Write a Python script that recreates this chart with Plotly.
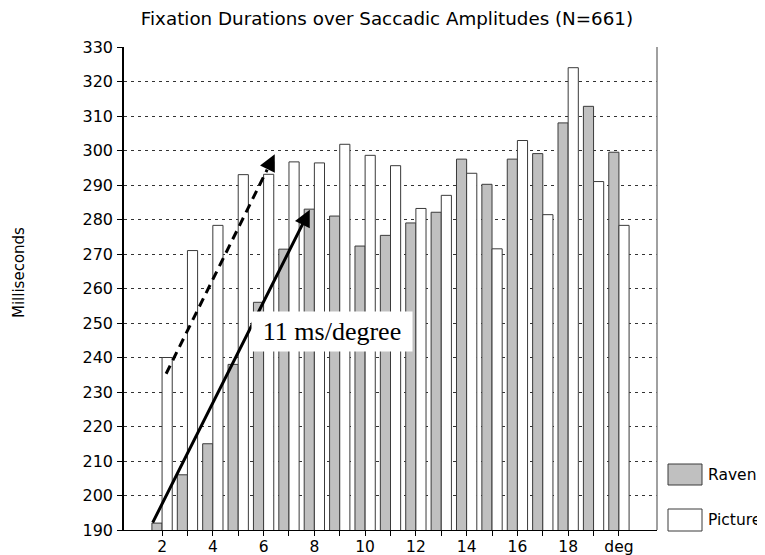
import plotly.graph_objects as go

# ---- data ----
categories = ["2", "3", "4", "5", "6", "7", "8", "9", "10", "11", "12", "13",
              "14", "15", "16", "17", "18", "19", "deg"]
tick_labels = ["2", "", "4", "", "6", "", "8", "", "10", "", "12", "",
               "14", "", "16", "", "18", "", "deg"]
raven = [192, 206, 215, 238, 256, 271.4, 283, 281, 272.3, 275.4, 279, 282.1,
         297.5, 290.2, 297.5, 299.1, 308, 312.8, 299.5]
picture = [240, 271, 278.3, 293, 293.1, 296.7, 296.4, 301.8, 298.6, 295.6, 283.2, 287,
           293.4, 271.5, 302.9, 281.4, 324, 291, 278.3]
y_ticks = list(range(190, 331, 10))

# trend arrows (category-index, ms)
solid_start = (-0.4, 191.7)
solid_end = (5.82, 282.8)
dashed_start = (0.16, 235.3)
dashed_end = (4.44, 298.9)
slope_label = "11 ms/degree"
slope_label_pos = (6.68, 247.4)

xpos = list(range(len(categories)))

FONT = "DejaVu Sans"
W, H = 757, 547  # page body adds an 8px offset

fig = go.Figure()
fig.add_trace(go.Bar(x=xpos, y=raven, name="Raven",
                     marker=dict(color="#C0C0C0", line=dict(color="#3a3a3a", width=1))))
fig.add_trace(go.Bar(x=xpos, y=picture, name="Picture",
                     marker=dict(color="#FFFFFF", line=dict(color="#3a3a3a", width=1))))

fig.update_layout(
    width=W, height=H,
    margin=dict(l=116, r=108, t=39, b=25, autoexpand=False),
    paper_bgcolor="white", plot_bgcolor="white",
    barmode="group", bargap=0.2, bargroupgap=0,
    showlegend=False,
    font=dict(family=FONT, size=16, color="black"),
    title=dict(text="Fixation Durations over Saccadic Amplitudes (N=661)",
               x=379 / W, xanchor="center", y=1 - 11 / H, yanchor="middle",
               font=dict(family=FONT, size=18.3, color="black")),
)

fig.update_xaxes(
    range=[-1.5, 19.5], tickmode="array", tickvals=xpos, ticktext=tick_labels,
    ticks="outside", ticklen=5, tickcolor="black", tickwidth=1,
    showline=True, linecolor="black", linewidth=1, showgrid=False, zeroline=False,
    automargin=False, ticklabelstandoff=-3,
    tickfont=dict(family=FONT, size=15.5, color="black"),
)
fig.update_yaxes(
    range=[190, 330], tickmode="array", tickvals=y_ticks,
    ticks="outside", ticklen=5, tickcolor="black", tickwidth=1,
    showline=True, linecolor="black", linewidth=1.5,
    showgrid=True, gridcolor="#333333", gridwidth=1, griddash="3px,4px",
    zeroline=False, ticklabelstandoff=1, automargin=False,
    tickfont=dict(family=FONT, size=16, color="black"),
)

pw = 533.0
ph = 483.0
def px(v):
    return (v - 124) / pw
def py(v):
    return (530 - v) / ph

shapes = []
# right border of plot area
shapes.append(dict(type="line", xref="paper", yref="paper", x0=1, x1=1, y0=0, y1=1,
                   line=dict(color="#808080", width=1.5)))
# dashed trend line
k = 0.93
dtail = (dashed_start[0] + k * (dashed_end[0] - dashed_start[0]),
         dashed_start[1] + k * (dashed_end[1] - dashed_start[1]))
shapes.append(dict(type="line", xref="x", yref="y",
                   x0=dashed_start[0], y0=dashed_start[1], x1=dtail[0], y1=dtail[1],
                   line=dict(color="black", width=3, dash="9px,6px")))

# manual legend boxes
shapes.append(dict(type="rect", xref="paper", yref="paper",
                   x0=px(668), x1=px(702), y0=py(485), y1=py(464),
                   fillcolor="#C0C0C0", line=dict(color="#3a3a3a", width=1)))
shapes.append(dict(type="rect", xref="paper", yref="paper",
                   x0=px(668), x1=px(702), y0=py(531), y1=py(509),
                   fillcolor="#FFFFFF", line=dict(color="#3a3a3a", width=1)))

annotations = []
annotations.append(dict(xref="paper", yref="paper", x=px(705.5), y=py(474.5),
                        xanchor="left", yanchor="middle", showarrow=False,
                        text="Raven", font=dict(family=FONT, size=15.5, color="black")))
annotations.append(dict(xref="paper", yref="paper", x=px(705.5), y=py(520),
                        xanchor="left", yanchor="middle", showarrow=False,
                        text="Picture", font=dict(family=FONT, size=15.5, color="black")))
# y axis title
annotations.append(dict(xref="paper", yref="paper", x=px(19), y=py(273),
                        xanchor="center", yanchor="middle", showarrow=False, textangle=-90,
                        text="Milliseconds", font=dict(family=FONT, size=15, color="black")))
# solid arrow
annotations.append(dict(xref="x", yref="y", axref="x", ayref="y",
                        x=solid_end[0], y=solid_end[1], ax=solid_start[0], ay=solid_start[1],
                        text="", showarrow=True, arrowhead=2, arrowsize=1.1,
                        arrowwidth=3, arrowcolor="black", standoff=0, startstandoff=0))
# dashed arrow head
annotations.append(dict(xref="x", yref="y", axref="x", ayref="y",
                        x=dashed_end[0], y=dashed_end[1], ax=dtail[0], ay=dtail[1],
                        text="", showarrow=True, arrowhead=2, arrowsize=1.1,
                        arrowwidth=3, arrowcolor="black", standoff=0, startstandoff=0))
# slope label
annotations.append(dict(xref="x", yref="y", x=slope_label_pos[0], y=slope_label_pos[1],
                        text=slope_label, showarrow=False, bgcolor="white",
                        width=152, height=31, borderpad=4,
                        font=dict(family="Liberation Serif", size=26, color="black")))

fig.update_layout(shapes=shapes, annotations=annotations)

fig.write_html("out.html")
